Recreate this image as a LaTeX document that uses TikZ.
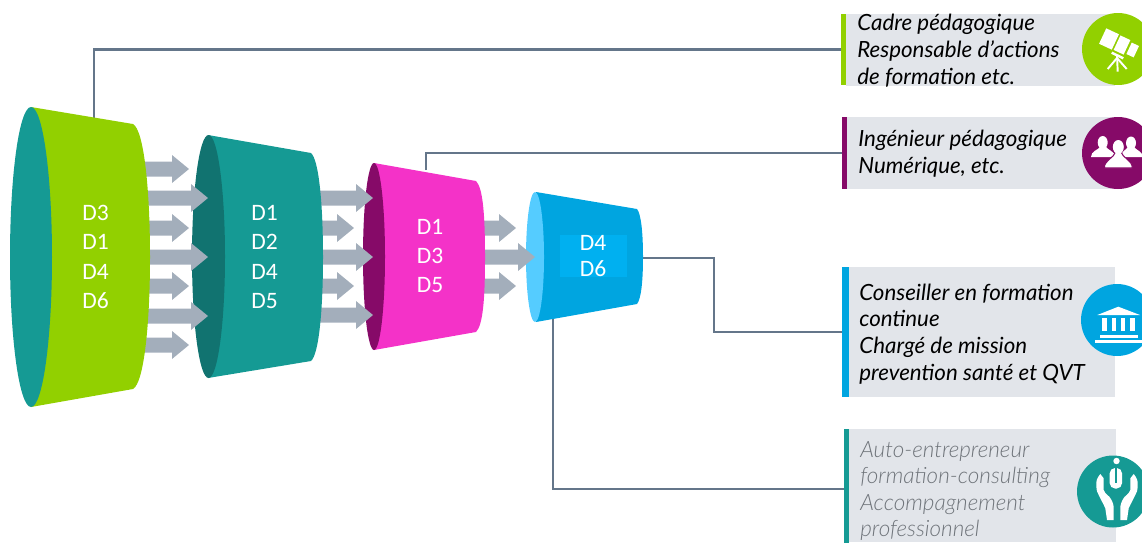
\documentclass[tikz,border=0pt]{standalone}
\usepackage{fontspec}
\setmainfont{Lato}
\newfontfamily\dfont{Carlito}
\newfontfamily\fin{Lato Light Italic}
\definecolor{limev}{HTML}{92D000}
\definecolor{tealv}{HTML}{159A94}
\definecolor{tealf}{HTML}{117370}
\definecolor{magen}{HTML}{F432C8}
\definecolor{violf}{HTML}{860A68}
\definecolor{bleuv}{HTML}{00A5E0}
\definecolor{bleuc}{HTML}{55CCFF}
\definecolor{bleur}{HTML}{00B0F0}
\definecolor{gris}{HTML}{A3AEBB}
\definecolor{trait}{HTML}{64768A}
\definecolor{fond}{HTML}{E2E5EA}
\definecolor{gristxt}{HTML}{6F747A}
\newcommand{\shortfl}[3]{\fill[fleche] (#1,#3-7.5) -- (#2-17,#3-7.5) -- (#2-17,#3-14) -- (#2,#3) -- (#2-17,#3+14) -- (#2-17,#3+7.5) -- (#1,#3+7.5) -- cycle;}
\tikzset{
  fleche/.style={fill=gris},
  lien/.style={draw=trait, line width=1.2pt},
  dtxt/.style={text=white, font=\dfont\fontsize{13.4}{16.7}\selectfont, align=center, inner sep=0pt},
  ptxt/.style={anchor=west, align=left, inner sep=0pt, font=\itshape\fontsize{12.7}{15.2}\selectfont},
  barre/.style={minimum height=#1, minimum width=0.1cm, inner sep=0pt},
  rond/.style={circle, minimum size=1.44cm, inner sep=0pt},
}
\begin{document}
\begin{tikzpicture}[x=0.02cm, y=-0.02cm]

    \useasboundingbox (0, 0) rectangle (1142, 542);
    \clip (0, 0) rectangle (1142, 542);

    % points d'attache
    \coordinate (c1top) at (94, 118);
    \coordinate (c2top) at (426, 170);
    \coordinate (c4right) at (640, 258);
    \coordinate (c4bot) at (553, 318);
    \coordinate (elbow3) at (714, 295);

    % panneaux
    \fill[fond] (846, 14) rectangle (1115, 86);
    \fill[fond] (847, 117) rectangle (1115, 189);
    \fill[fond] (849, 267) rectangle (1115, 397);
    \fill[fond] (849, 429) rectangle (1116, 542);

    \node[barre=1.44cm, fill=limev] (bar1) at (843.5, 49.5) {};
    \node[barre=1.44cm, fill=violf] (bar2) at (844.5, 153) {};
    \node[barre=2.6cm, fill=bleuv, minimum width=0.14cm] (bar3) at (845.5, 332) {};
    \node[barre=2.28cm, fill=tealv] (bar4) at (846.5, 486) {};

    % liens
    \draw[lien] (c1top) |- (bar1.west);
    \draw[lien] (c2top) |- (bar2.west);
    \draw[lien] (c4right) -| (elbow3) |- (bar3.west);
    \draw[lien] (c4bot) |- ([yshift=-0.06cm]bar4.west);

    % cone 4
    \fill[bleuv] (536, 192) -- (637, 209) .. controls (641, 214) and (643, 232) .. (643, 257)
      .. controls (643, 282) and (641, 299) .. (637, 304) -- (536, 322) -- cycle;
    \fill[bleuc] (535, 257) ellipse [x radius=9, y radius=65];
    \shortfl{480}{516}{228}
    \shortfl{480}{535}{257}
    \shortfl{480}{516}{286}

    % cone 3
    \fill[magen] (374, 163) -- (476, 181) .. controls (483, 188) and (485, 215) .. (485, 257)
      .. controls (485, 299) and (483, 325) .. (476, 332) -- (374, 350) -- cycle;
    \fill[violf] (374, 256.5) ellipse [x radius=11, y radius=93.5];
    \foreach \yy in {198, 257, 315} {\shortfl{315}{373}{\yy}}
    \foreach \yy in {228, 286} {\shortfl{315}{354}{\yy}}

    % cone 2
    \fill[tealv] (208, 135) -- (311, 153) .. controls (319, 160) and (323, 205) .. (323, 257)
      .. controls (323, 309) and (319, 354) .. (311, 361) -- (208, 378) -- cycle;
    \fill[tealf] (208.5, 256.5) ellipse [x radius=16.5, y radius=121.5];
    \foreach \yy in {198, 257, 316} {\shortfl{140}{208}{\yy}}
    \foreach \yy in {169, 228, 286, 345} {\shortfl{140}{189}{\yy}}

    % cone 1
    \fill[limev] (31, 107) -- (133, 124) .. controls (144, 130) and (150, 190) .. (150, 257)
      .. controls (150, 324) and (144, 383) .. (133, 389) -- (31, 407) -- cycle;
    \fill[tealv] (31, 257) ellipse [x radius=21, y radius=150];

    % textes des cones
    \node[dtxt] (d1) at (95.5, 257) {D3\\D1\\D4\\D6};
    \node[dtxt] (d2) at (264.5, 257) {D1\\D2\\D4\\D5};
    \node[dtxt] (d3) at (430, 256) {D1\\D3\\D5};
    \node[fill=bleur, minimum width=1.34cm, minimum height=0.84cm, inner sep=0pt] (d4box) at (593.5, 256) {};
    \node[dtxt, font=\dfont\fontsize{13.4}{15}\selectfont] (d4) at (593, 256) {D4\\D6};

    % textes des panneaux
    \node[ptxt] (t1) at (857, 50.5) {Cadre pédagogique\\Responsable d’actions\\de formation etc.};
    \node[ptxt] (t2) at (858, 154) {Ingénieur pédagogique\\Numérique, etc.};
    \node[ptxt] (t3) at (859, 334) {Conseiller en formation\\continue\\Chargé de mission\\prevention santé et QVT};
    \node[ptxt, text=gristxt, font=\fin\fontsize{12.8}{14.9}\selectfont] (t4) at (860, 491) {Auto-entrepreneur\\formation-consulting\\Accompagnement\\professionnel};

    % icones
    \node[rond, fill=limev] (ic1) at (1118, 49) {};
    \node[rond, fill=violf] (ic2) at (1118, 153) {};
    \node[rond, fill=bleuv] (ic3) at (1117, 320) {};
    \node[rond, fill=tealv] (ic4) at (1113, 491.5) {};

    % telescope
    \fill[white, rotate around={-25:(1109, 39)}] (1102, 30.5) rectangle (1116, 47.5);
    \fill[white, rotate around={-25:(1122, 45)}] (1116.5, 37) rectangle (1127.5, 53);
    \fill[white, rotate around={-25:(1132.7, 50)}] (1128.7, 43.7) rectangle (1136.7, 56.3);
    \draw[white, line width=1.4pt] (1111.7, 52.7) -- (1123.3, 58.3);
    \draw[white, line width=1.1pt] (1117, 55) -- (1117.7, 71.7);
    \draw[white, line width=1.1pt] (1107.7, 69) -- (1117, 58) -- (1126.7, 69);

    % groupe
    \fill[white] (1102.7, 142.5) ellipse [x radius=5, y radius=6.5];
    \fill[white] (1131, 143) ellipse [x radius=5, y radius=6.5];
    \fill[white] (1091, 157) .. controls (1091, 151) and (1098, 150) .. (1100, 147) -- (1106, 147) .. controls (1108, 150) and (1114, 151) .. (1116, 157) -- cycle;
    \fill[white] (1120, 157) .. controls (1122, 151) and (1126, 150) .. (1128, 147) -- (1134, 147) .. controls (1136, 150) and (1142, 151) .. (1143, 157) -- cycle;
    \fill[white, draw=violf, line width=0.6pt] (1104.3, 168) .. controls (1104.3, 160) and (1114, 158) .. (1115.5, 152) -- (1121, 152) .. controls (1122.5, 158) and (1132.3, 160) .. (1132.3, 168) -- cycle;
    \fill[white] (1118.3, 147) ellipse [x radius=5.5, y radius=7];

    % batiment
    \fill[white] (1097.3, 315) -- (1118.3, 306.7) -- (1140, 315) -- cycle;
    \foreach \xx in {1104.5, 1113.8, 1123.2, 1132.6} {\fill[white] (\xx-2.2, 318.3) rectangle (\xx+2.2, 330.5);}
    \fill[white] (1100, 335) rectangle (1138.3, 337.7);
    \fill[white] (1095, 340) rectangle (1141.7, 343.3);

    % mains
    \fill[white] (1116.5, 461) circle [radius=3.2];
    \fill[white, rounded corners=3pt] (1109.7, 468) -- (1122, 468) -- (1122, 488.5) -- (1109.7, 488.5) -- cycle;
    \fill[tealv] (1115, 467) rectangle (1116.7, 483);
    \fill[white] (1100.3, 474) .. controls (1097, 478) and (1096, 481) .. (1096.3, 485)
      .. controls (1096.5, 490) and (1097, 493) .. (1098.7, 495)
      .. controls (1101, 500) and (1103, 503) .. (1105.3, 508.3)
      -- (1107, 520) -- (1113.7, 520) -- (1113.7, 506.7)
      .. controls (1113, 502) and (1111, 499) .. (1109.3, 496.7)
      .. controls (1106, 494) and (1104, 492) .. (1103.7, 490) -- (1103.7, 478.3) -- cycle;
    \fill[white] (1133.7, 474) .. controls (1137, 478) and (1138, 481) .. (1137.7, 485)
      .. controls (1137.5, 490) and (1137, 493) .. (1135.3, 495)
      .. controls (1133, 500) and (1131, 503) .. (1128.7, 508.3)
      -- (1127, 520) -- (1120.3, 520) -- (1120.3, 506.7)
      .. controls (1121, 502) and (1123, 499) .. (1124.7, 496.7)
      .. controls (1128, 494) and (1130, 492) .. (1130.3, 490) -- (1130.3, 478.3) -- cycle;

\end{tikzpicture}
\end{document}
